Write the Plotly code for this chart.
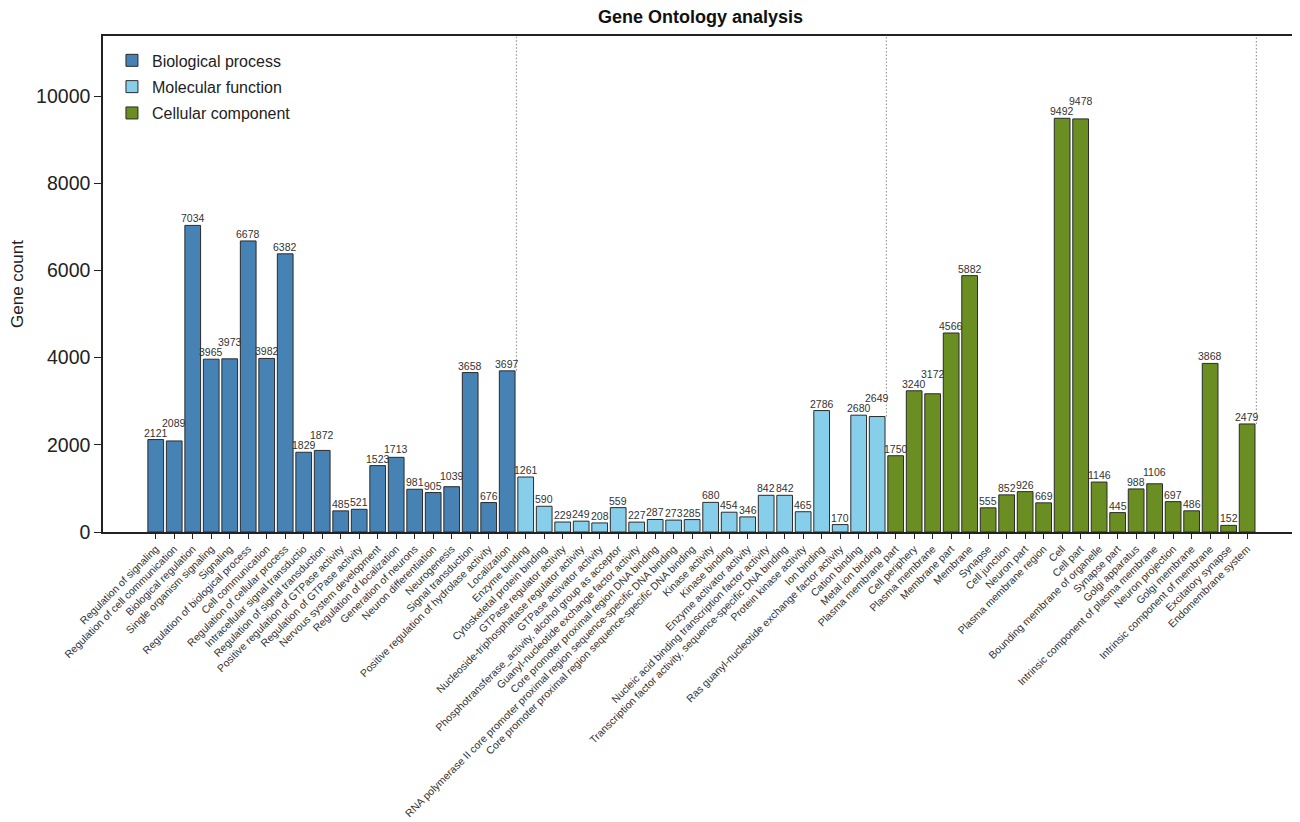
import numpy as np
import plotly.graph_objects as go

bp_terms = ["Regulation of signaling", "Regulation of cell communication", "Biological regulation",
            "Single organism signaling", "Signaling", "Regulation of biological process",
            "Cell communication", "Regulation of cellular process", "Intracellular signal transductio",
            "Regulation of signal transduction", "Positive regulation of GTPase activity",
            "Regulation of GTPase activity", "Nervous system development", "Regulation of localization",
            "Generation of neurons", "Neuron differentiation", "Neurogenesis", "Signal transduction",
            "Positive regulation of hydrolase activity", "Localization"]
bp_counts = [2121, 2089, 7034, 3965, 3973, 6678, 3982, 6382, 1829, 1872,
             485, 521, 1523, 1713, 981, 905, 1039, 3658, 676, 3697]

mf_terms = ["Enzyme binding", "Cytoskeletal protein binding", "GTPase regulator activity",
            "Nucleoside-triphosphatase regulator activity", "GTPase activator activity",
            "Phosphotransferase_activity, alcohol group as acceptor",
            "Guanyl-nucleotide exchange factor activity", "Core promoter proximal region DNA binding",
            "RNA polymerase II core promoter proximal region sequence-specific DNA binding",
            "Core promoter proximal region sequence-specific DNA binding", "Kinase activity",
            "Kinase binding", "Enzyme activator activity",
            "Nucleic acid binding transcription factor activity",
            "Transcription factor activity, sequence-specific DNA binding", "Protein kinase activity",
            "Ion binding", "Ras guanyl-nucleotide exchange factor activity", "Cation binding",
            "Metal ion binding"]
mf_counts = [1261, 590, 229, 249, 208, 559, 227, 287, 273, 285,
             680, 454, 346, 842, 842, 465, 2786, 170, 2680, 2649]

cc_terms = ["Plasma membrane part", "Cell periphery", "Plasma membrane", "Membrane part", "Membrane",
            "Synapse", "Cell junction", "Neuron part", "Plasma membrane region", "Cell", "Cell part",
            "Bounding membrane of organelle", "Synapse part", "Golgi apparatus",
            "Intrinsic component of plasma membrane", "Neuron projection", "Golgi membrane",
            "Intrinsic component of membrane", "Excitatory synapse", "Endomembrane system"]
cc_counts = [1750, 3240, 3172, 4566, 5882, 555, 852, 926, 669, 9492, 9478,
             1146, 445, 988, 1106, 697, 486, 3868, 152, 2479]

groups = [("Biological process", bp_terms, bp_counts, "#4682B4"),
          ("Molecular function", mf_terms, mf_counts, "#87CEEB"),
          ("Cellular component", cc_terms, cc_counts, "#6B8E23")]

y_ticks = [0, 2000, 4000, 6000, 8000, 10000]
Y_MAX = 11380
X_RANGE = [-2.85, 61.75]
FONT = "Liberation Sans, Arial, Helvetica, sans-serif"

FIG_W, FIG_H = 1292, 814
M_L, M_R, M_T, M_B = 95, 2, 28, 290
PLOT_W = FIG_W - M_L - M_R
PLOT_H = FIG_H - M_T - M_B
PX_PER_X = PLOT_W / (X_RANGE[1] - X_RANGE[0])
PX_PER_Y = PLOT_H / Y_MAX

LABEL_SIZE = 10.5
LABEL_H = 10.0
LABEL_PAD = 2.0

fig = go.Figure()
all_terms = []
all_counts = []
offset = 0
for name, terms, counts, color in groups:
    xs = np.arange(offset, offset + len(terms))
    fig.add_trace(go.Bar(
        x=xs, y=counts, name=name, legendgroup=name, width=0.85,
        marker=dict(color=color, line=dict(color="#2b2b2b", width=1)),
    ))
    all_terms += terms
    all_counts += counts
    offset += len(terms)

# value labels: simple greedy de-overlap (bump a label above an overlapping neighbour)
placed = []  # (x_px, half_width, bottom_px)
for i, c in enumerate(all_counts):
    txt = str(c)
    xpx = i * PX_PER_X
    hw = len(txt) * 0.556 * LABEL_SIZE / 2
    bottom = c * PX_PER_Y + LABEL_PAD
    for (xj, hwj, bj) in placed[-3:]:
        if abs(xpx - xj) < hw + hwj - 0.5 and bottom < bj + LABEL_H and bj < bottom + LABEL_H:
            bottom = bj + LABEL_H
    placed.append((xpx, hw, bottom))
    fig.add_annotation(x=i, y=c, xref="x", yref="y", text=txt, showarrow=False,
                       yanchor="bottom", xanchor="center", borderpad=0,
                       yshift=bottom - c * PX_PER_Y - 2,
                       font=dict(size=LABEL_SIZE, color="#333333", family=FONT))

# dotted separators after each group
pos = 0
for name, terms, counts, color in groups:
    pos += len(terms)
    sep = pos - 0.5
    left = all_counts[pos - 1]
    right = all_counts[pos] if pos < len(all_counts) else 0
    fig.add_shape(type="line", x0=sep, x1=sep, y0=max(left, right), y1=Y_MAX, yref="y",
                  xref="x", line=dict(color="#9a9a9a", width=1.2, dash="1.5px,2px"), layer="below")

fig.update_layout(
    width=FIG_W, height=FIG_H,
    margin=dict(l=M_L, r=M_R, t=M_T, b=M_B),
    paper_bgcolor="white", plot_bgcolor="white",
    font=dict(family=FONT, color="#222222"),
    title=dict(text="<b>Gene Ontology analysis</b>", x=0.5, xref="paper", y=1 - 9 / FIG_H,
               yref="container", yanchor="middle", xanchor="center",
               font=dict(size=18, color="#111111", family=FONT)),
    showlegend=True,
    legend=dict(x=0.0075, y=0.985, xanchor="left", yanchor="top", bgcolor="rgba(0,0,0,0)",
                font=dict(size=16, color="#222222", family=FONT), itemwidth=30,
                tracegroupgap=2.5),
    bargap=0.15,
)
fig.update_xaxes(
    range=X_RANGE, tickmode="array", tickvals=list(range(len(all_terms))),
    ticktext=all_terms, tickangle=-45, tickfont=dict(size=10.5, color="#333333", family=FONT),
    ticks="outside", ticklen=5, tickcolor="#222222", showline=True, linecolor="#222222",
    linewidth=1.5, mirror=True, showgrid=False, zeroline=False, automargin=False,
)
fig.update_yaxes(
    range=[0, Y_MAX], tickmode="array", tickvals=y_ticks, ticktext=[str(t) for t in y_ticks],
    tickfont=dict(size=19.5, color="#222222", family=FONT), ticks="outside", ticklen=7,
    tickcolor="#222222", showline=True, linecolor="#222222", linewidth=1.5, mirror=True,
    showgrid=False, zeroline=False, automargin=False,
    title=dict(text="Gene count", font=dict(size=17, color="#222222", family=FONT), standoff=19),
)

fig.write_html("out.html")
